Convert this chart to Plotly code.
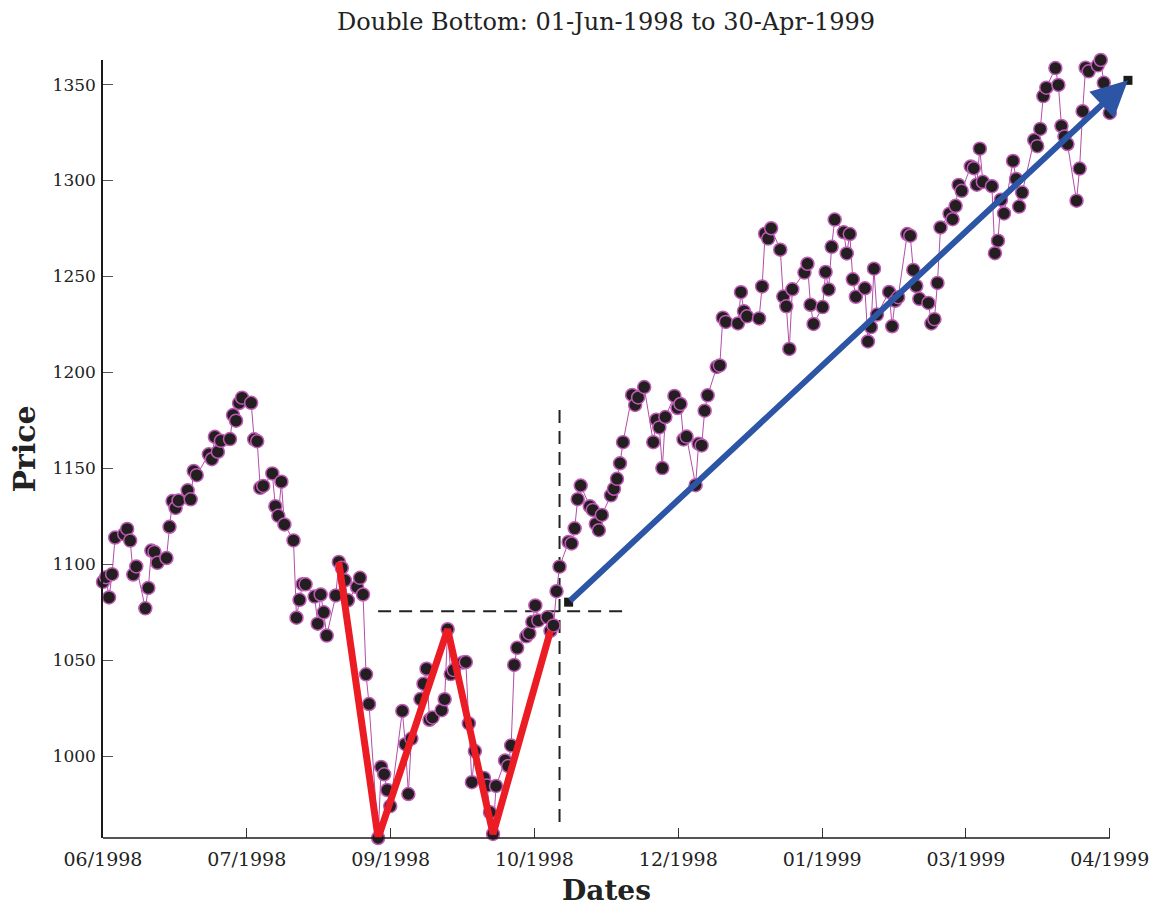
import pandas as pd
import plotly.graph_objects as go

# ---------------- data ----------------
holidays = ["1998-07-03", "1998-09-07", "1998-11-26", "1998-12-25",
            "1999-01-01", "1999-01-18", "1999-02-15", "1999-04-02"]

jun98 = [1090.8, 1093.2, 1082.7, 1094.8, 1113.9, 1115.7, 1118.4, 1112.3, 1094.6, 1098.8,
         1077.0, 1087.6, 1107.1, 1106.4, 1100.7, 1103.2, 1119.5, 1132.9, 1129.3, 1133.2,
         1138.5, 1133.8]
jul98 = [1148.6, 1146.4, 1157.3, 1154.7, 1166.4, 1158.6, 1164.3, 1165.2, 1177.7, 1174.8,
         1184.0, 1186.8, 1184.1, 1165.1, 1164.1, 1139.8, 1140.8, 1147.3, 1130.2, 1125.2,
         1143.0, 1120.7]
aug98 = [1112.4, 1072.1, 1081.4, 1089.6, 1089.5, 1083.1, 1069.0, 1084.2, 1074.9, 1062.8,
         1083.7, 1101.2, 1098.1, 1091.6, 1081.2, 1088.1, 1092.9, 1084.2, 1042.6, 1027.1,
         957.28]
sep98 = [994.3, 990.5, 982.3, 973.9, 1023.5, 1006.2, 980.2, 1009.1, 1029.7, 1037.7,
         1045.5, 1018.9, 1020.1, 1023.9, 1029.6, 1066.1, 1042.7, 1044.8, 1048.7, 1049.0,
         1017.0]
oct98 = [986.4, 1002.6, 988.6, 984.6, 970.7, 959.4, 984.4, 997.7, 994.8, 1005.5,
         1047.5, 1056.4, 1062.4, 1063.9, 1069.9, 1078.5, 1070.7, 1072.3, 1065.3, 1068.1,
         1085.9, 1098.7]
nov98 = [1111.6, 1110.8, 1118.7, 1133.9, 1141.0, 1130.2, 1128.3, 1121.0, 1117.7, 1125.7,
         1135.9, 1139.3, 1144.5, 1152.6, 1163.6, 1188.2, 1183.0, 1186.9, 1192.3, 1163.6]
dec98 = [1175.3, 1171.3, 1150.1, 1176.7, 1187.7, 1181.4, 1183.5, 1165.0, 1166.5, 1141.2,
         1162.8, 1161.9, 1180.0, 1188.0, 1202.8, 1203.6, 1228.5, 1226.3, 1225.5, 1241.8,
         1231.9, 1229.2]
jan99 = [1228.1, 1244.8, 1272.3, 1269.7, 1275.1, 1263.9, 1239.5, 1234.4, 1212.2, 1243.3,
         1252.0, 1256.6, 1235.2, 1225.2, 1234.0, 1252.3, 1243.2, 1265.4, 1279.6]
feb99 = [1273.0, 1262.0, 1272.1, 1248.5, 1239.4, 1243.8, 1216.1, 1223.6, 1254.0, 1230.1,
         1241.9, 1224.0, 1237.3, 1239.2, 1272.1, 1271.2, 1253.4, 1245.0, 1238.3]
mar99 = [1236.2, 1225.5, 1227.7, 1246.6, 1275.5, 1282.7, 1279.8, 1286.8, 1297.7, 1294.6,
         1307.3, 1306.4, 1297.8, 1316.6, 1299.3, 1297.0, 1262.1, 1268.6, 1290.0, 1282.8,
         1310.2, 1300.8, 1286.4]
apr99 = [1293.7, 1321.1, 1317.9, 1326.9, 1344.0, 1348.4, 1358.6, 1349.8, 1328.4, 1322.9,
         1319.0, 1289.5, 1306.2, 1336.1, 1358.8, 1356.9, 1360.0, 1362.8, 1350.9, 1342.8,
         1335.2]

months = [("1998-06", jun98), ("1998-07", jul98), ("1998-08", aug98), ("1998-09", sep98),
          ("1998-10", oct98), ("1998-11", nov98), ("1998-12", dec98), ("1999-01", jan99),
          ("1999-02", feb99), ("1999-03", mar99), ("1999-04", apr99)]

# double-bottom pattern (red W)
pattern_dates = ["1998-08-18", "1998-08-31", "1998-09-23", "1998-10-08", "1998-10-27"]
pattern_vals = [1101.2, 957.28, 1066.1, 959.4, 1065.3]

# neckline / breakout guides
neck_dates = ["1998-08-31", "1998-11-22"]
neck_vals = [1075.5, 1075.5]
breakout_dates = ["1998-10-30", "1998-10-30"]
breakout_vals = [965.6, 1182.8]

# target arrow
arrow_dates = ["1998-11-02", "1999-05-06"]
arrow_vals = [1080.2, 1352.2]

tick_text = ["06/1998", "07/1998", "09/1998", "10/1998", "12/1998", "01/1999", "03/1999", "04/1999"]
y_ticks = [1000, 1050, 1100, 1150, 1200, 1250, 1300, 1350]

# ---------------- build series ----------------
hol = pd.to_datetime(holidays)
dates, prices = [], []
for m, vals in months:
    start = pd.Timestamp(m + "-01")
    end = start + pd.offsets.MonthEnd(0)
    d = [x for x in pd.bdate_range(start, end) if x not in hol]
    assert len(d) == len(vals), (m, len(d), len(vals))
    dates += d
    prices += vals

x0 = pd.Timestamp("1998-06-01")
x1 = pd.Timestamp("1999-04-30")
span = (x1 - x0) / 7
tick_vals = [x0 + span * k for k in range(8)]
ymin, ymax = min(prices), max(prices)
xend = pd.Timestamp("1999-05-08")

fig = go.Figure()

# guides
fig.add_trace(go.Scatter(x=neck_dates, y=neck_vals, mode="lines",
                         line=dict(color="#222222", width=2, dash="13px,8px"),
                         hoverinfo="skip", showlegend=False))
fig.add_trace(go.Scatter(x=breakout_dates, y=breakout_vals, mode="lines",
                         line=dict(color="#222222", width=2, dash="13px,8px"),
                         hoverinfo="skip", showlegend=False))

# price series
fig.add_trace(go.Scatter(x=dates, y=prices, mode="lines+markers",
                         line=dict(color="#b24ea8", width=1),
                         marker=dict(size=13, color="#231f20",
                                     line=dict(color="#c05ab6", width=1.5)),
                         showlegend=False, cliponaxis=False))

# pattern
fig.add_trace(go.Scatter(x=pattern_dates, y=pattern_vals, mode="lines",
                         line=dict(color="#ec1c24", width=7),
                         showlegend=False, cliponaxis=False))

# arrow
fig.add_annotation(x=arrow_dates[1], y=arrow_vals[1], ax=arrow_dates[0], ay=arrow_vals[0],
                   xref="x", yref="y", axref="x", ayref="y", text="",
                   showarrow=True, arrowhead=2, arrowsize=1.2, arrowwidth=6,
                   arrowcolor="#2d55a6", standoff=0)
fig.add_trace(go.Scatter(x=arrow_dates, y=arrow_vals, mode="markers",
                         marker=dict(symbol="square", size=9, color="#1a1a1a"),
                         showlegend=False, cliponaxis=False))

# x axis line only over the data span
fig.add_shape(type="line", xref="x", yref="paper", x0=x0, x1=x1, y0=0, y1=0,
              line=dict(color="#1a1a1a", width=1.5))

fig.update_layout(
    width=1165, height=910,
    margin=dict(l=103, r=31, t=60, b=72),
    paper_bgcolor="white", plot_bgcolor="white",
    font=dict(family="DejaVu Serif", color="#222222", size=17),
    title=dict(text="Double Bottom: 01-Jun-1998 to 30-Apr-1999",
               xref="paper", x=0.488, xanchor="center", y=0.976, yanchor="middle",
               font=dict(family="DejaVu Serif", size=24, color="#222222")),
    xaxis=dict(type="date", range=[x0, xend], tickvals=tick_vals, ticktext=tick_text,
               ticks="inside", ticklen=10, tickcolor="#333333", tickwidth=1,
               showline=False, showgrid=False, zeroline=False,
               ticklabelstandoff=8, tickfont=dict(size=19)),
    yaxis=dict(range=[ymin, ymax], tickvals=y_ticks,
               ticks="inside", ticklen=10, tickcolor="#555555", tickwidth=1,
               showline=True, linecolor="#1a1a1a", linewidth=1.5,
               showgrid=False, zeroline=False, ticklabelstandoff=2,
               tickfont=dict(size=17),
               title=dict(text="<b>Price</b>", font=dict(size=30, family="DejaVu Serif"),
                          standoff=8)),
)

fig.add_annotation(text="<b>Dates</b>", xref="paper", yref="paper",
                   x=0.488, y=-0.068, xanchor="center", yanchor="middle",
                   showarrow=False, font=dict(size=28, family="DejaVu Serif", color="#222222"))

fig.write_html("out.html")
